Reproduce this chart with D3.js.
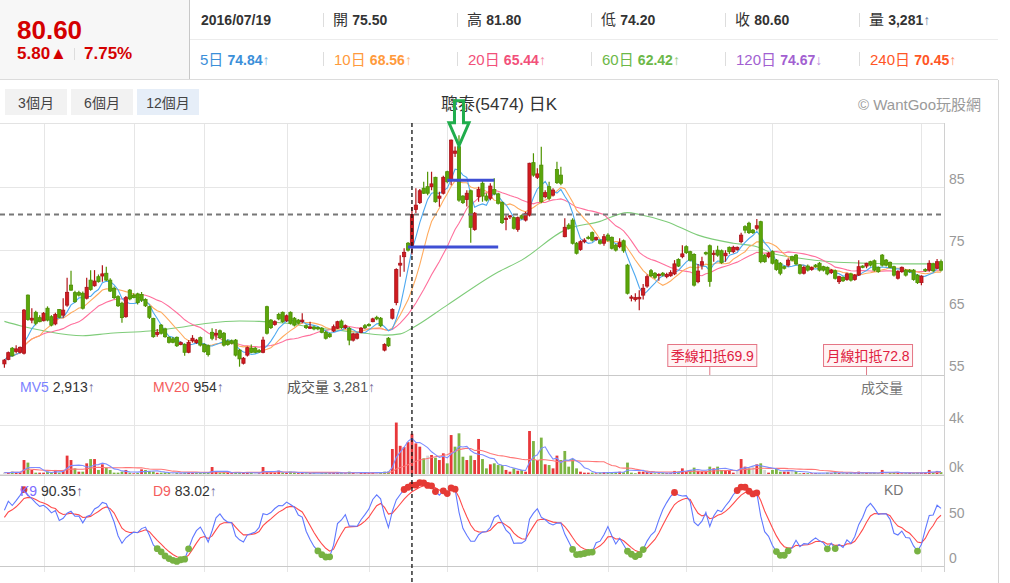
<!DOCTYPE html>
<html lang="zh-Hant">
<head>
<meta charset="UTF-8">
<title>聰泰(5474) 日K</title>
<script src="https://d3js.org/d3.v7.min.js"></script>
<style>
  body { margin: 0; background: #fff; }
  svg { font-family: "Liberation Sans", Arial, "Noto Sans CJK TC", sans-serif; }
  .grid { stroke: #e6e6e6; stroke-width: 1; }
  .frame { stroke: #d4d4d4; stroke-width: 1; fill: none; }
  .axis-label { fill: #999; font-size: 14px; }
  .ma { fill: none; stroke-width: 1.1; }
</style>
</head>
<body>
<svg id="chart" width="1010" height="583"></svg>
<script>
// ---- data ----
const opens = [
56.7,57.4,59.2,58.7,58.55,58.4,67.7,63.7,64.95,64.1,
63.6,65.6,64.25,63.1,65.4,64.5,66.1,69.3,68.1,68.1,
68.0,67.2,70.1,69.2,70.65,70.76,71.2,70.1,68.8,67.45,
66.4,64.25,68.5,67.7,67.9,67.8,67.0,65.85,63.98,61.4,
62.9,62.3,60.95,60.7,60.95,59.8,59.8,58.55,60.4,60.1,
60.9,59.8,59.6,61.75,61.3,62.0,61.6,60.35,60.4,60.5,
58.9,56.8,58.1,59.2,59.2,58.8,58.55,65.85,63.7,63.0,
64.6,64.95,63.6,64.95,64.0,63.7,63.45,62.8,62.4,62.6,
62.5,62.4,61.75,61.5,61.95,62.4,63.55,62.5,62.4,60.5,
60.8,61.75,62.8,63.0,63.45,64.15,64.0,58.9,60.8,64.0,
66.5,72.5,73.85,76.0,75.5,81.4,82.5,84.8,85.05,85.05,
86.55,83.2,84.0,87.45,86.1,90.4,91.45,83.55,83.0,84.4,
78.2,83.45,85.6,83.55,83.2,84.6,83.9,82.5,79.8,80.3,
80.1,78.2,80.4,79.7,80.5,88.9,86.55,88.5,83.45,85.05,
83.7,87.8,86.9,77.05,78.9,79.7,76.0,75.0,76.25,76.95,
77.7,76.6,76.4,76.0,77.3,76.95,75.7,75.45,76.4,72.5,
67.2,67.0,67.1,67.7,69.15,71.6,71.2,70.9,71.2,70.65,
70.8,71.1,73.4,73.85,75.45,74.65,74.2,69.85,72.5,74.5,
75.6,74.2,74.9,74.8,74.0,75.35,74.65,75.0,76.25,78.65,
79.2,78.1,78.4,79.45,74.1,73.85,74.65,73.3,72.8,72.25,
72.5,73.85,74.1,72.5,71.2,72.35,71.8,72.5,72.8,72.25,
72.15,71.3,71.6,69.85,70.55,70.2,71.1,70.2,70.9,72.35,
72.35,73.05,73.2,72.15,74.1,73.3,72.95,72.25,70.4,71.45,
71.7,71.7,71.7,70.9,69.7,71.8,71.7,72.7,72.0,73.05
];
const highs = [
57.5,58.7,59.4,59.7,59.5,65.5,67.8,65.6,65.2,64.5,
65.0,65.9,64.5,64.9,65.5,67.2,70.5,71.6,68.4,68.4,
68.3,70.5,71.7,71.7,71.0,72.5,72.25,70.4,69.1,67.7,
66.65,67.55,68.7,68.0,68.1,68.2,67.2,66.0,64.1,62.3,
63.1,62.5,61.1,61.0,61.1,60.3,60.0,60.5,61.3,60.7,
61.1,60.0,59.8,62.4,62.3,62.2,61.8,60.6,60.6,60.7,
59.1,57.8,59.5,59.8,59.4,59.1,61.05,66.0,63.9,63.7,
64.9,65.1,64.6,65.1,64.2,63.9,64.8,63.0,63.45,62.8,
62.7,62.6,62.0,61.7,63.0,63.6,63.8,63.0,62.6,61.7,
61.7,62.6,63.1,63.2,64.1,64.4,64.2,60.0,61.0,65.6,
72.0,74.1,75.2,76.2,81.8,84.8,84.7,85.85,87.45,87.45,
86.65,84.25,86.8,87.6,92.6,91.5,93.3,83.7,84.5,84.6,
81.0,85.05,86.1,84.0,85.6,86.4,84.1,82.7,80.5,80.5,
80.3,80.3,80.6,81.05,88.9,90.4,88.0,91.45,84.5,85.85,
84.8,89.05,88.25,80.0,79.2,80.0,76.2,76.5,76.8,77.2,
77.9,77.1,76.6,77.5,77.6,77.1,75.9,76.8,76.6,72.7,
67.7,68.0,68.5,69.5,71.0,71.9,71.4,71.2,71.4,71.3,
71.7,73.3,73.6,75.7,75.7,74.8,74.4,72.7,73.85,74.7,
75.8,74.9,75.6,75.0,74.9,75.5,75.6,75.5,77.7,78.9,
79.45,78.3,79.9,79.6,74.3,74.6,74.9,73.5,73.0,72.4,
73.6,74.0,74.3,72.7,72.4,72.6,72.3,72.7,73.0,72.4,
72.3,71.9,71.8,70.8,70.7,71.3,71.3,71.1,73.3,72.5,
72.9,73.2,73.4,72.3,74.3,73.5,73.1,72.4,71.7,72.3,
71.9,71.9,71.9,71.1,70.9,72.0,73.3,72.9,73.5,73.4
];
const lows = [
56.1,57.3,57.9,58.4,58.4,58.2,63.6,63.2,62.9,63.35,
63.5,63.5,62.7,62.9,64.0,64.1,65.85,68.4,66.5,67.5,
65.4,67.0,68.4,69.05,69.7,69.85,69.95,68.2,67.1,65.8,
63.3,64.1,66.9,67.2,66.2,66.6,65.8,63.9,60.9,61.05,
61.4,60.9,59.95,60.0,59.4,59.7,58.0,58.4,60.1,59.9,
59.5,58.5,57.9,60.5,60.5,60.7,59.5,59.6,59.8,57.9,
56.25,56.6,57.9,58.4,58.4,58.5,58.4,61.4,62.3,62.8,
63.7,63.3,63.4,63.0,62.7,63.0,63.2,62.3,62.3,62.1,
62.1,61.6,60.6,60.9,61.8,62.3,62.3,62.3,59.7,60.3,
60.6,61.6,62.3,62.7,63.35,63.7,62.6,58.7,59.4,63.8,
66.1,70.65,71.45,74.7,74.2,80.8,82.3,83.9,83.7,84.5,
82.5,81.85,83.8,85.6,85.3,89.8,82.65,82.3,81.9,76.1,
78.0,82.65,82.65,82.7,82.9,83.7,82.2,79.1,78.1,79.9,
78.2,77.85,79.8,79.5,80.3,86.65,86.3,82.4,83.2,82.9,
83.5,85.5,85.3,76.95,78.2,75.8,74.2,74.8,76.0,76.6,
76.3,76.4,75.8,75.6,76.3,75.0,74.7,75.2,74.5,67.8,
66.7,66.7,65.3,67.0,68.9,70.6,70.3,70.0,70.7,70.4,
70.65,70.9,72.2,73.6,74.3,73.1,69.1,69.6,71.8,74.1,
69.05,73.05,73.85,72.7,73.05,74.3,74.4,74.8,76.0,77.6,
77.5,77.5,78.1,72.8,72.9,73.6,72.6,71.6,70.9,71.8,
72.25,73.1,72.5,71.0,71.0,71.5,71.6,72.1,71.5,71.5,
70.9,71.1,70.2,69.5,69.8,70.0,69.9,70.0,70.75,72.0,
72.0,72.3,71.5,71.3,72.3,72.3,72.0,70.7,70.2,71.3,
70.7,71.3,70.0,69.5,69.3,71.4,71.45,71.4,71.9,71.5
];
const closes = [
57.3,58.5,58.0,59.1,59.35,65.3,63.8,64.0,63.2,63.45,
64.8,63.7,62.9,64.6,64.15,65.3,68.15,68.5,66.65,67.7,
65.6,68.95,68.6,69.95,69.85,71.1,70.1,68.35,67.3,66.0,
64.1,67.3,67.1,67.3,66.5,66.9,66.0,64.15,61.05,61.75,
61.6,61.05,60.15,60.15,59.6,60.1,58.55,60.15,60.8,60.5,
59.7,58.65,58.2,60.8,61.6,60.9,59.7,59.8,60.0,58.1,
57.5,57.6,59.3,58.55,58.55,58.6,60.5,61.6,62.5,63.45,
63.9,63.45,64.4,63.2,62.9,63.2,63.7,62.5,62.6,62.3,
62.3,61.75,60.8,61.05,62.65,63.45,62.5,62.8,60.5,61.5,
61.5,62.4,62.5,62.8,63.9,63.9,62.8,59.8,59.6,65.4,
71.8,72.8,74.55,74.9,80.6,82.1,84.4,84.0,84.0,85.5,
82.65,83.55,86.55,85.85,92.5,90.75,82.9,82.5,84.0,78.55,
80.8,84.6,83.55,82.9,85.15,83.9,82.4,79.3,80.0,80.4,
78.4,80.1,80.0,80.8,88.8,86.9,87.1,82.65,84.1,83.2,
84.5,85.7,85.6,78.55,78.4,76.0,74.4,76.25,76.5,76.8,
76.5,76.9,76.0,77.05,76.5,75.2,74.9,76.1,74.8,68.0,
67.4,67.3,67.35,68.8,70.65,70.8,70.55,71.0,70.9,71.0,
71.3,72.7,72.35,74.3,74.5,73.3,69.3,71.55,73.05,74.3,
69.9,74.4,74.1,72.9,74.4,74.65,75.35,75.35,77.3,78.1,
77.7,77.7,78.8,73.05,73.05,74.4,72.8,71.8,71.2,72.0,
73.3,73.3,72.7,71.2,72.15,71.7,72.1,72.25,71.7,71.7,
71.1,71.7,70.4,70.65,70.0,71.1,70.1,70.9,72.25,72.15,
72.8,72.5,71.7,71.45,72.5,72.5,72.15,70.9,71.45,72.15,
70.9,71.45,70.2,69.7,70.75,71.6,72.8,71.6,73.05,71.7
];
const volumes = [
120,80,190,140,140,1140,930,330,110,110,
110,190,110,330,110,330,1500,1140,460,190,
190,870,1220,1220,330,790,520,330,110,110,
190,330,110,60,80,380,330,250,200,100,
110,120,90,80,100,60,120,140,100,80,
90,110,130,570,160,120,140,80,70,110,
120,100,110,90,80,60,570,150,140,110,
270,120,100,190,120,70,90,60,80,70,
60,90,110,70,90,110,80,60,190,100,
90,120,110,80,130,110,150,190,200,2040,
4200,2300,2200,2600,3281,2500,2230,1280,1500,1550,
1330,1140,1690,870,3180,2230,3320,1410,1140,1500,
1140,2860,1220,460,790,870,730,730,330,190,
460,270,330,190,3510,2690,1140,2970,790,730,
460,1500,1140,1880,600,1220,460,190,110,110,
110,60,110,150,120,140,130,190,140,930,
110,60,190,190,190,110,60,60,80,70,
90,250,190,460,250,330,520,250,190,250,
600,460,600,330,330,250,110,330,1220,600,
460,600,790,870,330,110,330,460,190,190,
190,330,250,60,80,70,60,80,60,90,
110,70,150,80,60,70,90,60,190,60,
80,70,110,60,330,110,80,150,90,60,
70,80,100,120,90,110,330,110,250,150
];
// 60-day average read at sample points: [candle index, value]
const ma60Points = [
[0,63.5],[4,62.8],[10,62.0],[20,61.2],[27,61.6],[37,61.95],[46,62.65],[52,63.2],
[60,63.55],[65,63.5],[72,63.2],[79,62.5],[85,62.1],[92,61.6],[97,61.3],[101,61.5],
[104,62.4],[113,66.1],[126,71.4],[132,73.3],[143,78.1],[152,79.5],[159,80.9],[162,80.6],
[169,79.45],[177,77.3],[186,76.0],[192,75.45],[196,74.4],[203,73.6],[211,73.05],
[220,72.8],[229,72.7],[239,72.7]
];

const hoverIndex = 104;                 // 2016/07/19
const monthStarts = [10, 33, 51, 72, 93, 113, 136, 154, 174, 196, 234];
const priceTicks = [85, 75, 65, 55];
const volumeTicks = [[4000, "4k"], [0, "0k"]];
const kdTicks = [50, 0];

const quoteLabels = ["開", "高", "低", "收", "量"];
const quoteValues = ["75.50", "81.80", "74.20", "80.60", "3,281"];
const avgLabels = ["5日", "10日", "20日", "60日", "120日", "240日"];
const avgValues = ["74.84", "68.56", "65.44", "62.42", "74.67", "70.45"];
const avgArrows = ["↑", "↑", "↑", "↑", "↓", "↑"];
const avgColors = ["#3b8fd9", "#ff9a3c", "#f2507a", "#6cb848", "#a25fd1", "#ff5626"];
const rangeButtons = ["3個月", "6個月", "12個月"];

const drawnLines = [[113, 125, 86.1], [103, 126, 75.4]];   // [from, to, price]
const arrowMark = { index: 116, price: 91.6 };
const deductions = [{ label: "季線扣抵", index: 180 }, { label: "月線扣抵", index: 220 }];

// ---- scales ----
const N = closes.length;
const svg = d3.select("#chart");
const x = d3.scaleLinear().domain([0, N - 1]).range([4.4, 941]);
const yPrice = d3.scaleLinear().domain([55, 95]).range([374.5, 124.5]);
const yVol = d3.scaleLinear().domain([0, 4000]).range([474, 425]);
const yKD = d3.scaleLinear().domain([0, 100]).range([566, 476]);
const plotRight = 944.5;

const movingAvg = (arr, n) => arr.map((_, i) => d3.mean(arr.slice(Math.max(0, i - n + 1), i + 1)));
const ma5 = movingAvg(closes, 5), ma10 = movingAvg(closes, 10), ma20 = movingAvg(closes, 20);
const mv5 = movingAvg(volumes, 5), mv20 = movingAvg(volumes, 20);

// KD (9,3,3)
const kVals = [], dVals = [];
let k = 50, d = 50;
closes.forEach((c, i) => {
    const lo = d3.min(lows.slice(Math.max(0, i - 8), i + 1));
    const hi = d3.max(highs.slice(Math.max(0, i - 8), i + 1));
    const rsv = hi === lo ? 50 : (c - lo) / (hi - lo) * 100;
    k = k * 2 / 3 + rsv / 3;
    d = d * 2 / 3 + k / 3;
    kVals.push(k); dVals.push(d);
});

// ---- header ----
const header = svg.append("g");
header.append("rect").attr("x", 0).attr("y", 0).attr("width", 189).attr("height", 79).attr("fill", "#f7f7f7");
header.append("line").attr("x1", 189.5).attr("x2", 189.5).attr("y1", 0).attr("y2", 79).attr("stroke", "#c8c8c8");
header.append("line").attr("x1", 190).attr("x2", 998).attr("y1", 39.5).attr("y2", 39.5).attr("stroke", "#ececec");
header.append("line").attr("x1", 0).attr("x2", 998).attr("y1", 79.5).attr("y2", 79.5).attr("stroke", "#dcdcdc");

header.append("text").attr("x", 17).attr("y", 38.5)
    .attr("fill", "#d40000").attr("font-size", 26).attr("font-weight", "bold").text("80.60");
header.append("text").attr("x", 17).attr("y", 59).attr("fill", "#d40000")
    .attr("font-size", 17).attr("font-weight", "bold").text("5.80▲");
header.append("line").attr("x1", 74.5).attr("x2", 74.5).attr("y1", 48).attr("y2", 60).attr("stroke", "#ddd");
header.append("text").attr("x", 84).attr("y", 59).attr("fill", "#d40000")
    .attr("font-size", 17).attr("font-weight", "bold").text("7.75%");

const colX = d3.range(6).map(i => 190 + i * 134);
colX.slice(1).forEach(cx => {
    header.append("line").attr("x1", cx - 0.5).attr("x2", cx - 0.5).attr("y1", 13).attr("y2", 27).attr("stroke", "#ddd");
    header.append("line").attr("x1", cx - 0.5).attr("x2", cx - 0.5).attr("y1", 52).attr("y2", 66).attr("stroke", "#ddd");
});
header.append("text").attr("x", 201).attr("y", 24.5).attr("fill", "#333")
    .attr("font-size", 14).attr("font-weight", "bold").text("2016/07/19");
quoteLabels.forEach((lab, i) => {
    const t = header.append("text").attr("x", colX[i + 1] + 9).attr("y", 24.5).attr("fill", "#333").attr("font-size", 14);
    t.append("tspan").attr("font-size", 15).text(lab + " ");
    t.append("tspan").attr("font-weight", "bold").text(quoteValues[i]);
    if (lab === "量") t.append("tspan").attr("fill", "#6a7fa8").text("↑");
});
avgLabels.forEach((lab, i) => {
    const t = header.append("text").attr("x", colX[i] + 10).attr("y", 65).attr("fill", avgColors[i]).attr("font-size", 14);
    t.append("tspan").attr("font-size", 15).text(lab + " ");
    t.append("tspan").attr("font-weight", "bold").text(avgValues[i]);
    t.append("tspan").attr("opacity", 0.7).text(avgArrows[i]);
});

// range buttons, title, copyright
rangeButtons.forEach((lab, i) => {
    const bx = 5 + i * 66;
    header.append("rect").attr("x", bx).attr("y", 89).attr("width", 62).attr("height", 26)
        .attr("fill", i === 2 ? "#e6eef8" : "#f2f2f2");
    header.append("text").attr("x", bx + 31).attr("y", 108).attr("text-anchor", "middle")
        .attr("font-size", 14).attr("fill", "#444").text(lab);
});
header.append("text").attr("x", 499).attr("y", 109.5).attr("text-anchor", "middle")
    .attr("font-size", 17).attr("fill", "#333").text("聰泰(5474) 日K");
header.append("text").attr("x", 858).attr("y", 109.5)
    .attr("font-size", 15).attr("fill", "#9a9a9a").text("© WantGoo玩股網");

// ---- frames and grids ----
const grid = svg.append("g");
grid.append("line").attr("x1", 998.5).attr("x2", 998.5).attr("y1", 80).attr("y2", 583).attr("class", "frame");
grid.selectAll("line.vgrid").data(monthStarts).join("line")
    .attr("class", "grid vgrid")
    .attr("x1", i => Math.round(x(i)) + 0.5).attr("x2", i => Math.round(x(i)) + 0.5)
    .attr("y1", 123).attr("y2", 572);
grid.selectAll("line.pgrid").data(priceTicks).join("line")
    .attr("class", "grid pgrid")
    .attr("x1", 0).attr("x2", plotRight)
    .attr("y1", p => Math.round(yPrice(p)) + 0.5).attr("y2", p => Math.round(yPrice(p)) + 0.5);
grid.selectAll("line.vtick").data(volumeTicks).join("line")
    .attr("class", "grid vtick")
    .attr("x1", 0).attr("x2", plotRight)
    .attr("y1", t => Math.round(yVol(t[0])) + 0.5).attr("y2", t => Math.round(yVol(t[0])) + 0.5);
grid.selectAll("line.kgrid").data(kdTicks).join("line")
    .attr("class", "grid kgrid")
    .attr("x1", 0).attr("x2", plotRight)
    .attr("y1", t => Math.round(yKD(t)) + 0.5).attr("y2", t => Math.round(yKD(t)) + 0.5);
[123.5, 375.5, 475.5, 566.5].forEach(yy => {
    grid.append("line").attr("x1", 0).attr("x2", plotRight).attr("y1", yy).attr("y2", yy)
        .attr("stroke", yy === 123.5 ? "#e3e3e3" : "#c9c9c9");
});
grid.append("line").attr("x1", plotRight).attr("x2", plotRight).attr("y1", 123).attr("y2", 572).attr("stroke", "#d0d0d0");

// right axis labels
grid.selectAll("text.pl").data(priceTicks).join("text")
    .attr("class", "axis-label pl").attr("x", 949).attr("y", p => yPrice(p) - 3.5).text(p => p);
grid.selectAll("text.vl").data(volumeTicks).join("text")
    .attr("class", "axis-label vl").attr("x", 949).attr("y", t => yVol(t[0]) - 2.5).text(t => t[1]);
grid.selectAll("text.kl").data(kdTicks).join("text")
    .attr("class", "axis-label kl").attr("x", 949).attr("y", t => yKD(t) - 3.5).text(t => t);

// ---- price panel ----
svg.append("clipPath").attr("id", "clipPrice")
    .append("rect").attr("x", 0).attr("y", 123).attr("width", plotRight).attr("height", 252);
const price = svg.append("g").attr("clip-path", "url(#clipPrice)");

const line = arr => d3.line().x((_, i) => x(i)).y(v => yPrice(v))(arr);
price.append("path").datum(ma60Points).attr("class", "ma").attr("stroke", "#7fcc7a")
    .attr("d", d3.line().x(p => x(p[0])).y(p => yPrice(p[1])).curve(d3.curveMonotoneX));
price.append("path").attr("class", "ma").attr("stroke", "#ff6f9c").attr("d", line(ma20));
price.append("path").attr("class", "ma").attr("stroke", "#ffab5e").attr("d", line(ma10));
price.append("path").attr("class", "ma").attr("stroke", "#4ea9f0").attr("d", line(ma5));

const candles = d3.range(N).map(i => ({ i, o: opens[i], h: highs[i], l: lows[i], c: closes[i] }));
const up = c => c.c >= c.o;
const bodyW = 3.2;
price.selectAll("line.wick").data(candles).join("line")
    .attr("class", "wick")
    .attr("x1", c => x(c.i)).attr("x2", c => x(c.i))
    .attr("y1", c => yPrice(c.h)).attr("y2", c => yPrice(c.l))
    .attr("stroke", c => up(c) ? "#b3141a" : "#4f9400").attr("stroke-width", 1.2);
price.selectAll("rect.body").data(candles).join("rect")
    .attr("class", "body")
    .attr("x", c => x(c.i) - bodyW / 2).attr("width", bodyW)
    .attr("y", c => yPrice(Math.max(c.o, c.c)))
    .attr("height", c => Math.max(1.2, Math.abs(yPrice(c.o) - yPrice(c.c))))
    .attr("fill", c => up(c) ? "#d11b1f" : "#5ba60a")
    .attr("stroke", c => up(c) ? "#a8121a" : "#4c8f03").attr("stroke-width", 0.8);

// hovered close, drawn guide lines, arrow
price.append("line").attr("x1", 0).attr("x2", plotRight)
    .attr("y1", yPrice(closes[hoverIndex])).attr("y2", yPrice(closes[hoverIndex]))
    .attr("stroke", "#777").attr("stroke-width", 2).attr("stroke-dasharray", "5,4");
price.selectAll("line.drawn").data(drawnLines).join("line")
    .attr("class", "drawn")
    .attr("x1", dl => x(dl[0])).attr("x2", dl => x(dl[1]))
    .attr("y1", dl => yPrice(dl[2])).attr("y2", dl => yPrice(dl[2]))
    .attr("stroke", "#3f4fd4").attr("stroke-width", 3);

const ax = x(arrowMark.index), ay = yPrice(arrowMark.price);
svg.append("path")
    .attr("d", `M${ax - 4.5},${ay - 45} L${ax + 4.5},${ay - 45} L${ax + 4.5},${ay - 23} L${ax + 10},${ay - 23}
                L${ax},${ay} L${ax - 10},${ay - 23} L${ax - 4.5},${ay - 23} Z`)
    .attr("fill", "none").attr("stroke", "#20ad4c").attr("stroke-width", 3).attr("stroke-linejoin", "miter");

// deduction boxes
deductions.forEach((dd, j) => {
    const tx = x(dd.index);
    const label = dd.label + closes[dd.index].toFixed(1);
    const bx = tx - 44 + (j === 0 ? 2 : 1);
    price.append("line").attr("x1", tx).attr("x2", tx).attr("y1", 367).attr("y2", 375).attr("stroke", "#e07a88");
    price.append("rect").attr("x", bx).attr("y", 344.5).attr("width", 89).attr("height", 22)
        .attr("fill", "#fff3f4").attr("stroke", "#e57585");
    price.append("text").attr("x", bx + 44.5).attr("y", 361).attr("text-anchor", "middle")
        .attr("font-size", 14).attr("fill", "#e0203f").text(label);
});

// ---- volume panel ----
const vol = svg.append("g");
const volColor = i => i === 0 || closes[i] === closes[i - 1] ? "#d6d6d6"
    : closes[i] > closes[i - 1] ? "#e8373a" : "#7db443";
vol.selectAll("rect.vbar").data(volumes).join("rect")
    .attr("class", "vbar")
    .attr("x", (v, i) => x(i) - 1.4).attr("width", 2.8)
    .attr("y", v => yVol(v)).attr("height", v => yVol(0) - yVol(v))
    .attr("fill", (v, i) => volColor(i));
const vline = arr => d3.line().x((_, i) => x(i)).y(v => yVol(v))(arr);
vol.append("path").attr("class", "ma").attr("stroke", "#ff7676").attr("stroke-width", 1.4).attr("d", vline(mv20));
vol.append("path").attr("class", "ma").attr("stroke", "#7d8dff").attr("d", vline(mv5));

const volLabel = vol.append("text").attr("y", 392).attr("font-size", 14);
volLabel.append("tspan").attr("x", 20).attr("fill", "#7b82ff").text("MV5");
volLabel.append("tspan").attr("fill", "#333").text(" 2,913");
volLabel.append("tspan").attr("fill", "#776a9a").text("↑");
volLabel.append("tspan").attr("x", 153).attr("fill", "#f45c5c").text("MV20");
volLabel.append("tspan").attr("fill", "#333").text(" 954");
volLabel.append("tspan").attr("fill", "#776a9a").text("↑");
volLabel.append("tspan").attr("x", 287).attr("fill", "#555").text("成交量 3,281");
volLabel.append("tspan").attr("fill", "#776a9a").text("↑");
vol.append("text").attr("x", 861).attr("y", 393).attr("font-size", 14).attr("fill", "#777").text("成交量");

// ---- KD panel ----
const kd = svg.append("g");
const kline = arr => d3.line().x((_, i) => x(i)).y(v => yKD(v))(arr);
kd.append("path").attr("class", "ma").attr("stroke", "#ff4a4a").attr("d", kline(dVals));
kd.append("path").attr("class", "ma").attr("stroke", "#6078ff").attr("d", kline(kVals));
const extremes = kVals.map((v, i) => ({ i, v })).filter(p => p.v > 80 || p.v < 20);
kd.selectAll("circle.dot").data(extremes).join("circle")
    .attr("class", "dot")
    .attr("cx", p => x(p.i)).attr("cy", p => yKD(p.v)).attr("r", 3.4)
    .attr("fill", p => p.v > 80 ? "#e53a35" : "#78b243");

const kdLabel = kd.append("text").attr("y", 496).attr("font-size", 14);
kdLabel.append("tspan").attr("x", 20).attr("fill", "#7b6cff").text("K9");
kdLabel.append("tspan").attr("fill", "#333").text(" 90.35");
kdLabel.append("tspan").attr("fill", "#776a9a").text("↑");
kdLabel.append("tspan").attr("x", 153).attr("fill", "#f45c5c").text("D9");
kdLabel.append("tspan").attr("fill", "#333").text(" 83.02");
kdLabel.append("tspan").attr("fill", "#776a9a").text("↑");
kd.append("text").attr("x", 884).attr("y", 495).attr("font-size", 14).attr("fill", "#777").text("KD");

// ---- crosshair on the hovered day ----
svg.append("line").attr("x1", x(hoverIndex)).attr("x2", x(hoverIndex))
    .attr("y1", 123).attr("y2", 583)
    .attr("stroke", "#111").attr("stroke-width", 1.3).attr("stroke-dasharray", "4,3");
</script>
</body>
</html>
